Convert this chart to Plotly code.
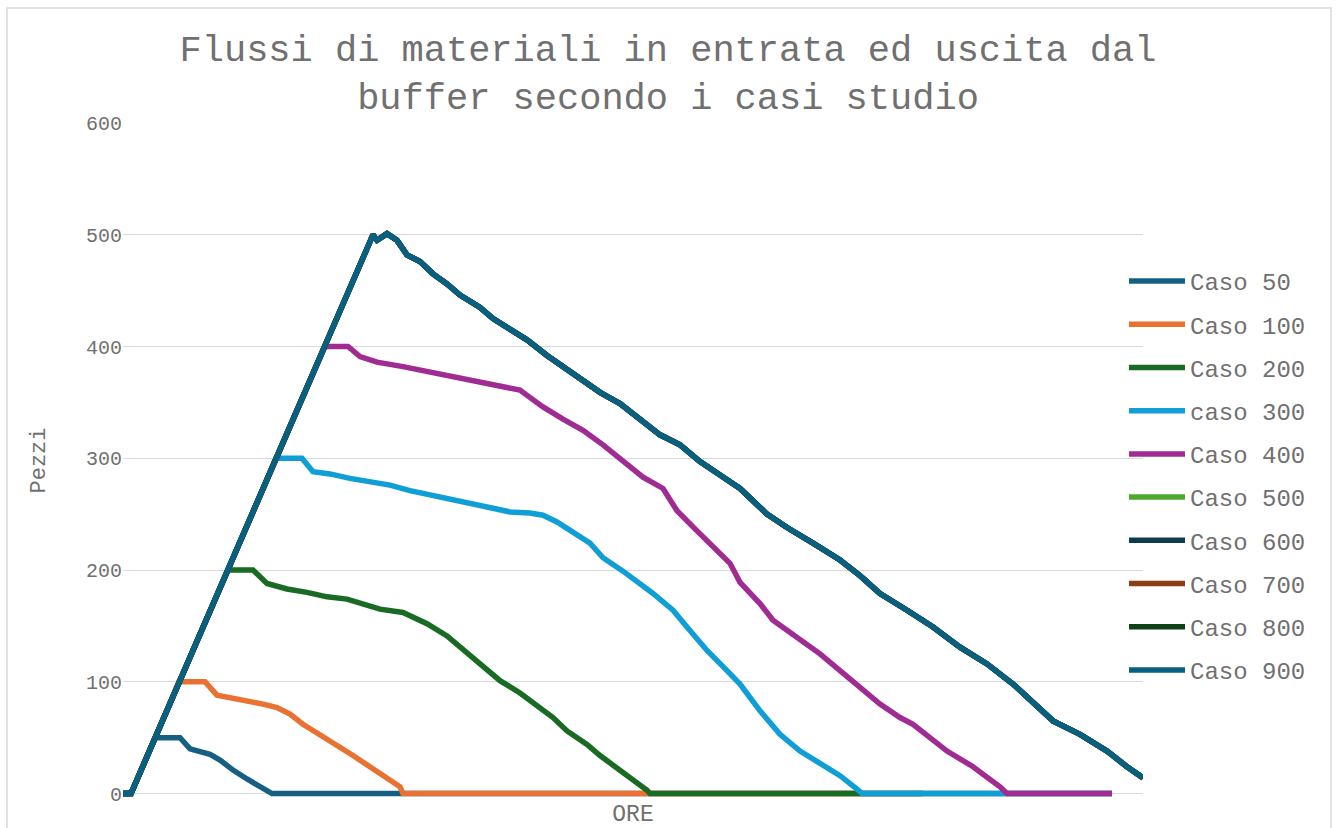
import plotly.graph_objects as go

# ---- data (x = hours index, y = pieces in buffer) ----
ore_50 = [0, 8, 32, 57, 67, 77, 87, 97, 110, 124, 137, 145, 149, 800]
pezzi_50 = [0, 0, 50, 50, 40, 37, 35, 30, 21, 13, 6, 2, 0, 0]

ore_100 = [0, 8, 56, 82, 94, 107, 124, 140, 154, 167, 180, 197, 214, 230, 247, 264, 277, 280, 800]
pezzi_100 = [0, 0, 100, 100, 88, 86, 83, 80, 77, 71, 62, 53, 43, 34, 24, 15, 6, 0, 0]

ore_200 = [0, 8, 105, 130, 144, 164, 184, 204, 224, 237, 257, 280, 290, 304, 324, 344, 364, 377,
           397, 417, 430, 444, 464, 477, 497, 514, 524, 527, 989]
pezzi_200 = [0, 0, 200, 200, 188, 183, 180, 176, 174, 170, 165, 162, 158, 152, 141, 126, 112, 101,
             90, 76, 68, 56, 44, 34, 21, 10, 3, 0, 0]

ore_300 = [0, 8, 153, 179, 190, 207, 227, 247, 267, 287, 307, 327, 347, 367, 387, 407, 420, 434,
           447, 467, 480, 500, 530, 550, 564, 584, 604, 617, 637, 657, 677, 697, 717, 734, 739, 989]
pezzi_300 = [0, 0, 300, 300, 288, 286, 282, 279, 276, 271, 267, 264, 260, 256, 252, 251, 249, 243,
             235, 224, 211, 199, 179, 164, 149, 128, 110, 98, 74, 53, 38, 27, 16, 4, 0, 0]

ore_400 = [0, 8, 202, 225, 237, 254, 280, 307, 334, 360, 380, 397, 400, 420, 440, 460, 480, 500,
           520, 540, 554, 574, 594, 607, 617, 637, 650, 677, 697, 717, 737, 757, 777, 790, 824,
           850, 877, 884, 989]
pezzi_400 = [0, 0, 400, 400, 391, 386, 382, 377, 373, 367, 364, 361, 359, 346, 335, 325, 312, 297,
             283, 273, 253, 235, 217, 206, 189, 170, 155, 137, 125, 110, 95, 80, 68, 62, 38,
             24, 6, 0, 0]

ore_900 = [0, 8, 250, 254, 264, 274, 284, 297, 310, 324, 337, 357, 370, 390, 404, 424, 444, 464,
           477, 497, 517, 537, 557, 577, 597, 617, 644, 664, 690, 717, 737, 757, 784, 810, 837,
           864, 890, 912, 930, 957, 984, 1004, 1017, 1020]
pezzi_900 = [0, 0, 500, 495, 501, 495, 482, 476, 465, 456, 446, 435, 425, 413, 406, 392, 380, 368,
             359, 349, 335, 321, 312, 297, 285, 273, 250, 238, 224, 209, 195, 179, 164, 149, 131,
             116, 98, 80, 65, 53, 38, 24, 15, 14]

# cases 500..800 coincide with case 900 (buffer capped at 500)
ore_500, pezzi_500 = ore_900, pezzi_900
ore_600, pezzi_600 = ore_900, pezzi_900
ore_700, pezzi_700 = ore_900, pezzi_900
ore_800, pezzi_800 = ore_900, pezzi_900

nomi = ["Caso 50", "Caso 100", "Caso 200", "caso 300", "Caso 400",
        "Caso 500", "Caso 600", "Caso 700", "Caso 800", "Caso 900"]
colori = ["#156082", "#E97132", "#196B24", "#0F9ED5", "#A02B93",
          "#4EA72E", "#0D3A4E", "#8C3F14", "#0F4016", "#095F80"]
dati = [(ore_50, pezzi_50), (ore_100, pezzi_100), (ore_200, pezzi_200), (ore_300, pezzi_300),
        (ore_400, pezzi_400), (ore_500, pezzi_500), (ore_600, pezzi_600), (ore_700, pezzi_700),
        (ore_800, pezzi_800), (ore_900, pezzi_900)]
y_ticks = [0, 100, 200, 300, 400, 500, 600]

FONT = "Courier New, Liberation Mono, monospace"
TXT = "#707070"
GRID = "#d9d9d9"

fig = go.Figure()
for i, (nome, col, (xs, ys)) in enumerate(zip(nomi, colori, dati)):
    fig.add_trace(go.Scatter(x=xs, y=ys, mode="lines", name=nome, legendgroup=str(i),
                             line=dict(color=col, width=5.5)))

W, H = 1336, 828
ML, MR, MT, MB = 123, 193, 123, 30
pw, ph = W - ML - MR, H - MT - MB


def px2paper(px, py):
    return (px - ML) / pw, (H - MB - py) / ph


bx0, by0 = px2paper(7, 8)
bx1, by1 = px2paper(1331, 840)

fig.update_layout(
    width=W, height=H, autosize=False,
    margin=dict(l=ML, r=MR, t=MT, b=MB, autoexpand=False),
    paper_bgcolor="white", plot_bgcolor="white",
    font=dict(family=FONT, color=TXT, size=20),
    title=dict(text="Flussi di materiali in entrata ed uscita dal<br>buffer secondo i casi studio",
               x=0.5, xref="container", xanchor="center",
               y=1 - 61 / H, yref="container", yanchor="middle",
               font=dict(family=FONT, size=37, color=TXT)),
    xaxis=dict(range=[0, 1020], showgrid=False, showticklabels=False, zeroline=False,
               showline=False, ticks="", automargin=False,
               title=dict(text="ORE", standoff=7, font=dict(size=23, color=TXT))),
    yaxis=dict(range=[-4, 600], tickvals=y_ticks, showgrid=True, gridcolor=GRID, gridwidth=1.3,
               zeroline=True, zerolinecolor=GRID, zerolinewidth=1.3, showline=False,
               ticks="", ticklabelstandoff=0, automargin=False,
               tickfont=dict(size=20, color=TXT),
               title=dict(text="Pezzi", standoff=34, font=dict(size=22, color=TXT))),
    legend=dict(x=px2paper(1124, 0)[0], xanchor="left", y=px2paper(0, 259)[1], yanchor="top",
                font=dict(size=24, color=TXT), tracegroupgap=9, bgcolor="rgba(0,0,0,0)",
                itemwidth=56),
    showlegend=True,
    shapes=[dict(type="rect", xref="paper", yref="paper", x0=bx0, y0=by1, x1=bx1, y1=by0,
                 line=dict(color=GRID, width=1.5), fillcolor="rgba(0,0,0,0)", layer="below")],
)

fig.write_html("out.html")
